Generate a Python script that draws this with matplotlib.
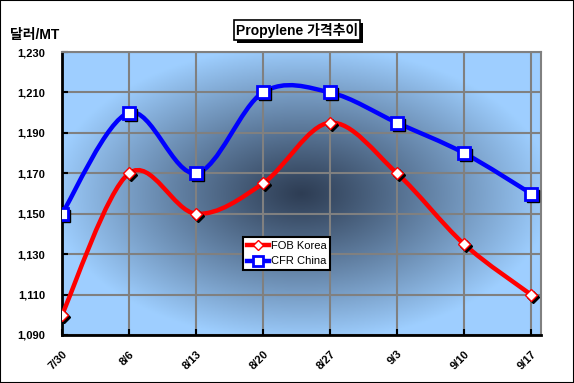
import numpy as np
import matplotlib
matplotlib.use("Agg")
import matplotlib.pyplot as plt
from matplotlib.path import Path
from matplotlib.patches import PathPatch, Rectangle
from matplotlib.lines import Line2D
import matplotlib.transforms as mtransforms

plt.rcParams['font.family'] = ['Liberation Sans', 'Noto Sans CJK KR', 'DejaVu Sans']

# data
dates = ["7/30", "8/6", "8/13", "8/20", "8/27", "9/3", "9/10", "9/17"]
fob_korea = [1100, 1170, 1150, 1165, 1195, 1170, 1135, 1110]
cfr_china = [1150, 1200, 1170, 1210, 1210, 1195, 1180, 1160]
y_ticks = [1090, 1110, 1130, 1150, 1170, 1190, 1210, 1230]


def smooth_path(xs, ys):
    """Excel-like smoothed line: cubic bezier through every point."""
    xs = np.asarray(xs, float)
    ys = np.asarray(ys, float)
    n = len(xs)
    verts = [(xs[0], ys[0])]
    codes = [Path.MOVETO]
    for i in range(n - 1):
        p0 = (xs[max(i - 1, 0)], ys[max(i - 1, 0)])
        p1 = (xs[i], ys[i])
        p2 = (xs[i + 1], ys[i + 1])
        p3 = (xs[min(i + 2, n - 1)], ys[min(i + 2, n - 1)])
        c1 = (p1[0] + (p2[0] - p0[0]) / 6, p1[1] + (p2[1] - p0[1]) / 6)
        c2 = (p2[0] - (p3[0] - p1[0]) / 6, p2[1] - (p3[1] - p1[1]) / 6)
        verts += [c1, c2, p2]
        codes += [Path.CURVE4] * 3
    return Path(verts, codes)


fig = plt.figure(figsize=(5.74, 3.83), dpi=100)
ax = fig.add_axes([62 / 574, 1 - 335 / 383, (541 - 62) / 574, (335 - 52) / 383])

# radial gradient background
gx, gy = np.meshgrid(np.linspace(-1, 1, 300), np.linspace(-1, 1, 200))
r = np.clip(np.sqrt(gx ** 2 + gy ** 2) / 1.05, 0, 1)
t = r ** 1.1
dark = np.array([0.18, 0.24, 0.33])
light = np.array([0.62, 0.81, 1.0])
img = dark[None, None, :] * (1 - t[..., None]) + light[None, None, :] * t[..., None]
ax.imshow(img, extent=[0, 1, 0, 1], transform=ax.transAxes, aspect='auto', zorder=0)

x = np.arange(len(dates))
ax.set_xlim(0, 7.15)
ax.set_ylim(1090, 1230)

# grid lines
for yt in y_ticks:
    ax.axhline(yt, color='#808080', lw=1.5, zorder=1)
for xi in x[1:]:
    ax.axvline(xi, color='#808080', lw=1.5, zorder=1)

shadow = mtransforms.offset_copy(ax.transData, fig=fig, x=2, y=-2, units='dots')

# lines
ax.add_patch(PathPatch(smooth_path(x, fob_korea), fill=False, ec='#ff0000', lw=3.2, zorder=3))
ax.add_patch(PathPatch(smooth_path(x, cfr_china), fill=False, ec='#0000ff', lw=3.2, zorder=3))

# markers with a black drop shadow
ax.plot(x, fob_korea, ls='none', marker='D', ms=6, mfc='black', mec='black', transform=shadow, zorder=4)
ax.plot(x, fob_korea, ls='none', marker='D', ms=6, mfc='white', mec='#ff0000', mew=1, zorder=5)
ax.plot(x, cfr_china, ls='none', marker='s', ms=8.5, mfc='black', mec='black', transform=shadow, zorder=4)
ax.plot(x, cfr_china, ls='none', marker='s', ms=8.5, mfc='white', mec='#0000ff', mew=2, zorder=5)

ax.set_yticks(y_ticks)
ax.set_yticklabels(["{:,}".format(v) for v in y_ticks], fontsize=8, fontweight='bold')
ax.set_xticks(x)
ax.set_xticklabels(dates, rotation=45, fontsize=8, fontweight='bold', ha='right', va='top',
                   rotation_mode='anchor')
ax.tick_params(axis='y', length=4, width=1.5, direction='in', pad=12)
ax.tick_params(axis='x', length=4, width=1.5, direction='in', pad=10)
for s in ax.spines.values():
    s.set_color('#808080')
    s.set_linewidth(1.5)
ax.spines['left'].set_color('black')
ax.spines['bottom'].set_color('black')
ax.spines['left'].set_linewidth(2)
ax.spines['bottom'].set_linewidth(2)

# legend
handles = [Line2D([], [], color='#ff0000', lw=3.2, marker='D', ms=5, mfc='white', mec='#ff0000'),
           Line2D([], [], color='#0000ff', lw=3.2, marker='s', ms=7, mfc='white', mec='#0000ff', mew=2)]
leg = ax.legend(handles, ["FOB Korea", "CFR China"], loc='upper left',
                bbox_to_anchor=((243 - 62) / 479, 1 - (237 - 52) / 283),
                fontsize=8, frameon=True, fancybox=False, framealpha=1,
                edgecolor='black', handlelength=2.0, handletextpad=0.15,
                borderpad=0.35, labelspacing=0.5, borderaxespad=0)
leg.get_frame().set_linewidth(1.5)
leg.set_zorder(10)

# y unit and title
fig.text(10 / 574, 1 - 35 / 383, "달러/MT", fontsize=10, fontweight='bold',
         family=['Liberation Sans', 'Noto Sans CJK KR'], va='center', ha='left')
title = fig.text(297 / 574, 1 - 30 / 383, "Propylene 가격추이", fontsize=10, fontweight='bold',
                 family=['Liberation Sans', 'Noto Sans CJK KR'], ha='center', va='center',
                 bbox=dict(boxstyle='square,pad=0.15', fc='white', ec='black', lw=1.2), zorder=5)
fig.canvas.draw()
bb = title.get_bbox_patch().get_window_extent()
fig.patches.append(Rectangle((bb.x0 + 3, bb.y0 - 3), bb.width, bb.height, fc='black', ec='none',
                             transform=None, zorder=4))

# outer border
fig.patches.append(Rectangle((0, 0), 1, 1, transform=fig.transFigure, fill=False,
                             ec='black', lw=1.5, zorder=20))

fig.savefig("out.png", dpi=100)
